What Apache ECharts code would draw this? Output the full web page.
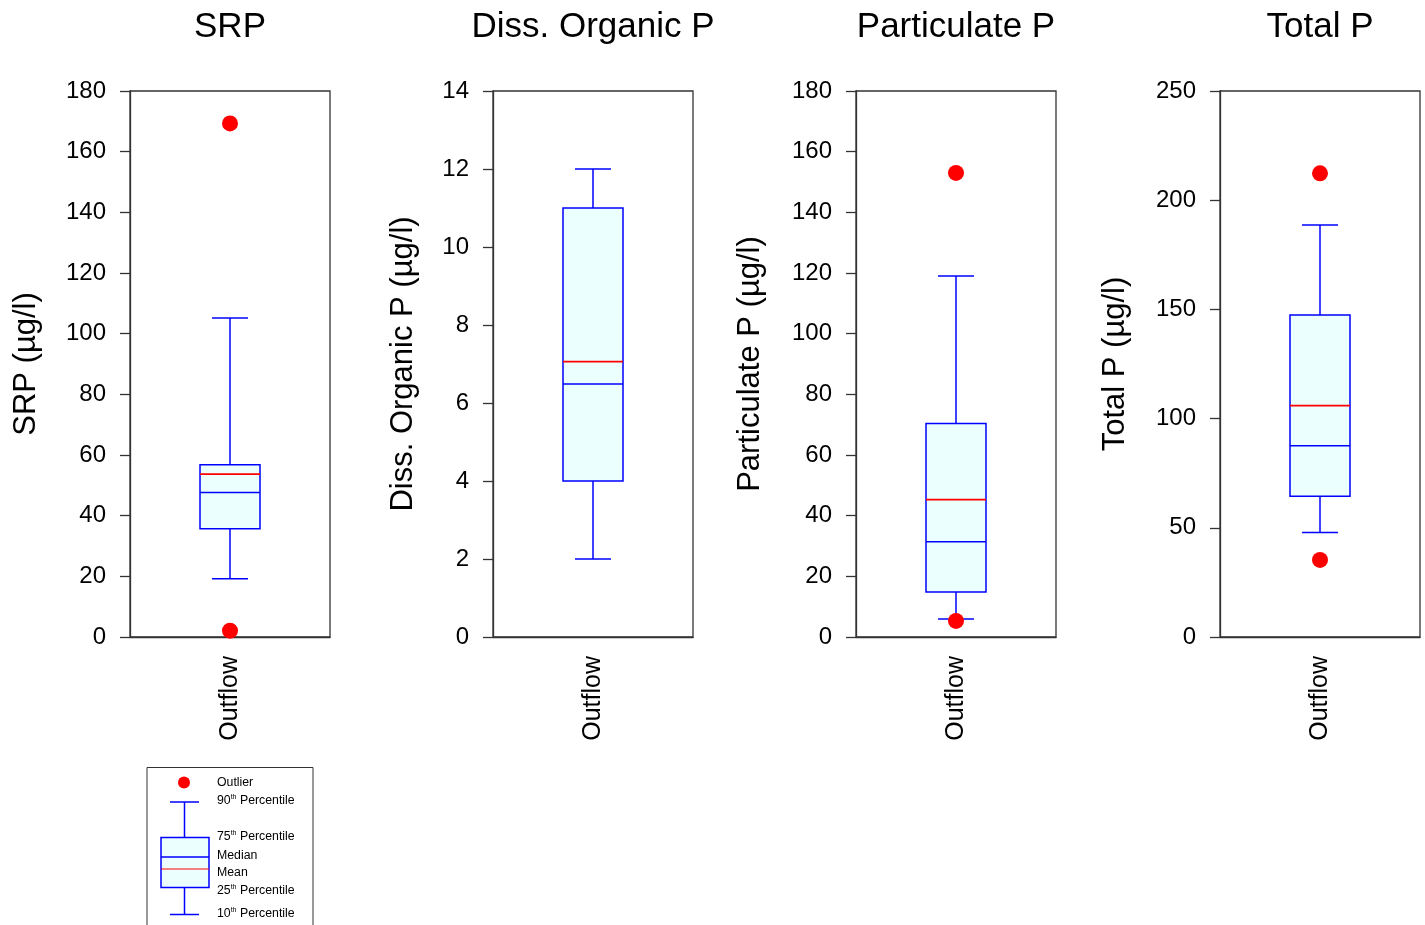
<!DOCTYPE html>
<html>
<head>
<meta charset="utf-8">
<script src="https://cdn.jsdelivr.net/npm/echarts@6/dist/echarts.min.js"></script>
<style>
html,body{margin:0;padding:0;background:#fff;}
#main{width:1425px;height:925px;}
</style>
</head>
<body>
<div id="main"></div>
<script>
// ---- data ----
const titles = ['SRP', 'Diss. Organic P', 'Particulate P', 'Total P'];
const axisNames = ['SRP (µg/l)', 'Diss. Organic P (µg/l)', 'Particulate P (µg/l)', 'Total P (µg/l)'];
const categories = ['Outflow'];
const yMax = [180, 14, 180, 250];
const yInterval = [20, 2, 20, 50];
const p10 = [19.2, 2.0, 5.9, 47.8];
const p25 = [35.7, 4.0, 14.8, 64.4];
const median = [47.6, 6.49, 31.4, 87.6];
const mean = [53.7, 7.06, 45.3, 105.9];
const p75 = [56.8, 11.0, 70.4, 147.4];
const p90 = [105.2, 12.0, 119.0, 188.6];
const outliers = [[169.3, 2.1], [], [153.0, 5.3], [212.3, 35.3]];

// ---- layout ----
const FONT = "'Liberation Sans', Arial, Helvetica, sans-serif";
const gridLeft = [130, 493, 856, 1220];
const gridTop = 91, gridW = 200, gridH = 546;
const nameGaps = [88, 74, 90, 89];
const BLUE = '#0000ff', RED = '#ff0000', FILL = '#ebffff', AXIS = '#333333';

const chart = echarts.init(document.getElementById('main'), null, {renderer: 'canvas'});

const grids = [], xAxes = [], yAxes = [], series = [], titleOpts = [];
titles.forEach((t, i) => {
  grids.push({left: gridLeft[i], top: gridTop, width: gridW, height: gridH,
    show: true, borderColor: AXIS, borderWidth: 1.3, backgroundColor: 'transparent'});
  titleOpts.push({text: t, left: gridLeft[i] + gridW / 2, textAlign: 'center', top: 10, padding: 0,
    textStyle: {fontFamily: FONT, fontSize: 35, fontWeight: 'normal', color: '#000'}});
  xAxes.push({type: 'category', gridIndex: i, data: categories, boundaryGap: true,
    axisLine: {lineStyle: {color: AXIS, width: 1.3}},
    axisTick: {alignWithLabel: true, length: 8, lineStyle: {color: AXIS, width: 1.3}},
    axisLabel: {rotate: 90, fontFamily: FONT, fontSize: 25, color: '#000', margin: 19}});
  yAxes.push({type: 'value', gridIndex: i, min: 0, max: yMax[i], interval: yInterval[i],
    name: axisNames[i], nameLocation: 'middle', nameGap: nameGaps[i],
    nameTextStyle: {fontFamily: FONT, fontSize: 31, color: '#000'},
    axisLine: {show: true, lineStyle: {color: AXIS, width: 1.3}},
    axisTick: {show: true, inside: false, length: 10, lineStyle: {color: AXIS, width: 1.3}},
    axisLabel: {fontFamily: FONT, fontSize: 24, color: '#000', margin: 24},
    splitLine: {show: false}});
  series.push({
    type: 'custom', xAxisIndex: i, yAxisIndex: i,
    data: [[0, p10[i], p25[i], median[i], mean[i], p75[i], p90[i]]],
    clip: false,
    renderItem: function (params, api) {
      const x = api.value(0);
      const c = k => api.coord([x, api.value(k)]);
      const pLo = c(1), pQ1 = c(2), pMed = c(3), pMean = c(4), pQ3 = c(5), pHi = c(6);
      const cx = pLo[0], hb = 30, hc = 18;
      const ls = {stroke: BLUE, lineWidth: 1.5, fill: null};
      return {type: 'group', children: [
        {type: 'line', shape: {x1: cx, y1: pHi[1], x2: cx, y2: pQ3[1]}, style: ls},
        {type: 'line', shape: {x1: cx, y1: pQ1[1], x2: cx, y2: pLo[1]}, style: ls},
        {type: 'line', shape: {x1: cx - hc, y1: pHi[1], x2: cx + hc, y2: pHi[1]}, style: ls},
        {type: 'line', shape: {x1: cx - hc, y1: pLo[1], x2: cx + hc, y2: pLo[1]}, style: ls},
        {type: 'rect', shape: {x: cx - hb, y: pQ3[1], width: 2 * hb, height: pQ1[1] - pQ3[1]},
          style: {fill: FILL, stroke: BLUE, lineWidth: 1.5}},
        {type: 'line', shape: {x1: cx - hb, y1: pMed[1], x2: cx + hb, y2: pMed[1]}, style: ls},
        {type: 'line', shape: {x1: cx - hb, y1: pMean[1], x2: cx + hb, y2: pMean[1]},
          style: {stroke: RED, lineWidth: 1.8}}
      ]};
    }
  });
  series.push({
    type: 'scatter', xAxisIndex: i, yAxisIndex: i, symbol: 'circle', symbolSize: 16,
    itemStyle: {color: RED, opacity: 1}, z: 5, clip: false,
    data: outliers[i].map(v => [0, v])
  });
});

// ---- key (legend) drawn as graphics ----
const legendTexts = [
  ['Outlier', 783], ['{n|90}{s|th}{n| Percentile}', 801], ['{n|75}{s|th}{n| Percentile}', 837],
  ['Median', 856], ['Mean', 873], ['{n|25}{s|th}{n| Percentile}', 891], ['{n|10}{s|th}{n| Percentile}', 914]
];
const rich = {n: {fontSize: 12.3, fontFamily: FONT, color: '#000', lineHeight: 14},
              s: {fontSize: 7, fontFamily: FONT, color: '#000', verticalAlign: 'top', lineHeight: 14}};
const lg = [
  {type: 'rect', shape: {x: 147, y: 767.5, width: 166, height: 200},
    style: {fill: '#fff', stroke: AXIS, lineWidth: 1}},
  {type: 'circle', shape: {cx: 184, cy: 782.5, r: 6}, style: {fill: RED}},
  {type: 'line', shape: {x1: 170, y1: 802, x2: 199, y2: 802}, style: {stroke: BLUE, lineWidth: 1.5}},
  {type: 'line', shape: {x1: 184.5, y1: 802, x2: 184.5, y2: 837}, style: {stroke: BLUE, lineWidth: 1.5}},
  {type: 'rect', shape: {x: 161, y: 837.5, width: 48, height: 50}, style: {fill: FILL, stroke: BLUE, lineWidth: 1.5}},
  {type: 'line', shape: {x1: 161, y1: 857, x2: 209, y2: 857}, style: {stroke: BLUE, lineWidth: 1.5}},
  {type: 'line', shape: {x1: 161, y1: 869, x2: 209, y2: 869}, style: {stroke: RED, lineWidth: 1}},
  {type: 'line', shape: {x1: 184.5, y1: 887.5, x2: 184.5, y2: 914}, style: {stroke: BLUE, lineWidth: 1.5}},
  {type: 'line', shape: {x1: 170, y1: 914.5, x2: 199, y2: 914.5}, style: {stroke: BLUE, lineWidth: 1.5}}
];
legendTexts.forEach(([t, y]) => {
  lg.push({type: 'text', x: 217, y: y, style: {
    text: t.indexOf('{') === 0 ? t : '{n|' + t + '}', rich: rich,
    verticalAlign: 'middle', align: 'left'}});
});

chart.setOption({
  backgroundColor: '#fff',
  animation: false,
  title: titleOpts,
  grid: grids,
  xAxis: xAxes,
  yAxis: yAxes,
  series: series,
  graphic: [{type: 'group', silent: true, children: lg}]
});
</script>
</body>
</html>
